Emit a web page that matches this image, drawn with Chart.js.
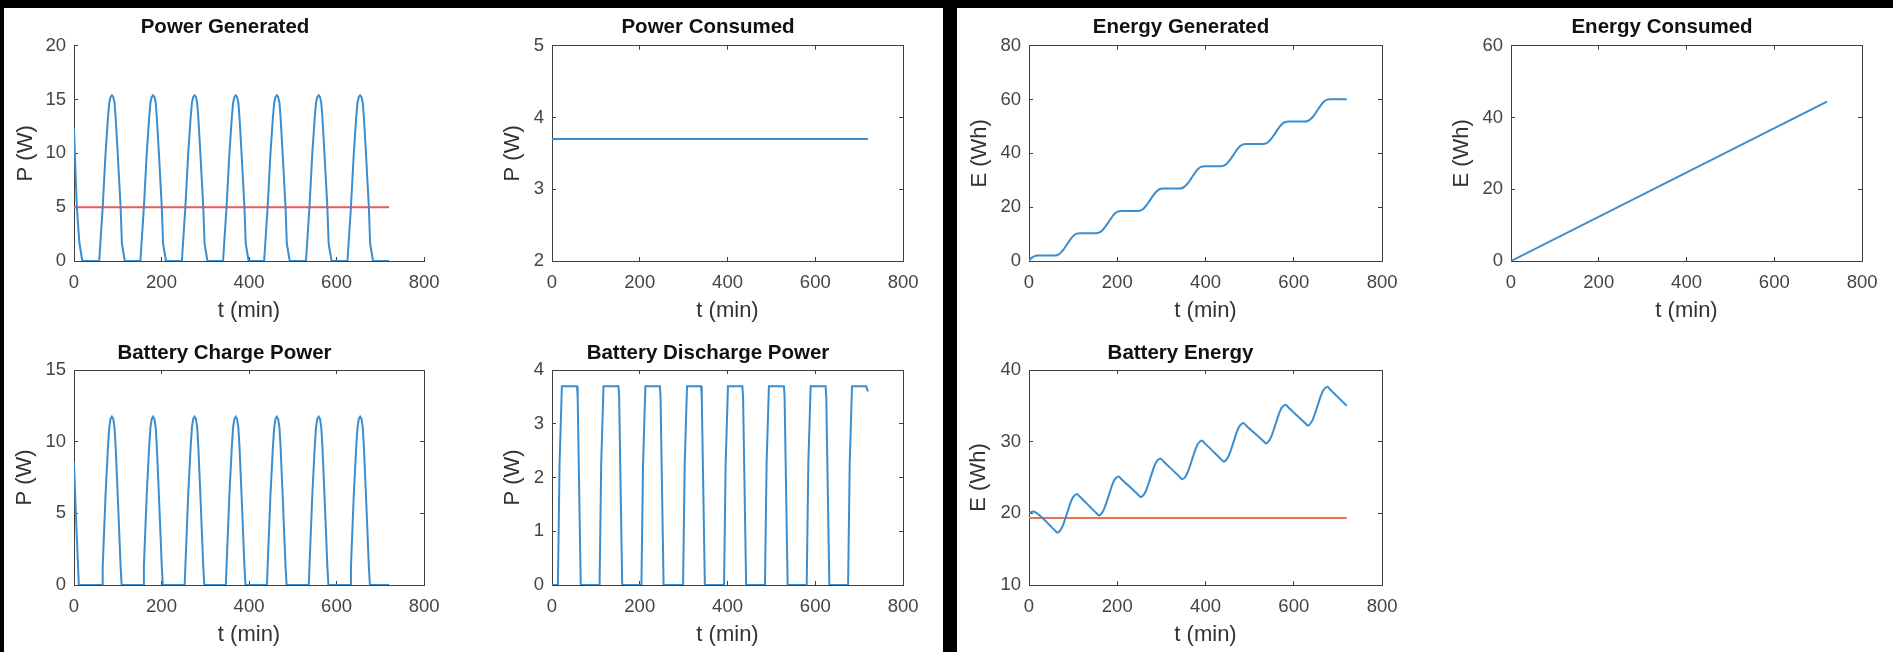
<!DOCTYPE html>
<html>
<head>
<meta charset="utf-8">
<script src="https://cdn.jsdelivr.net/npm/chart.js@4.4.1/dist/chart.umd.min.js"></script>
<style>
  html, body { margin: 0; padding: 0; background: #000; width: 1893px; height: 652px; overflow: hidden; position: relative; }
  .panel { position: absolute; background: #fff; top: 8px; height: 644px; }
  canvas { position: absolute; }
</style>
</head>
<body>
<div class="panel" style="left:4px;width:939px"></div>
<div class="panel" style="left:957px;width:936px"></div>

<canvas id="pGen" width="441" height="320" style="left:13px;top:8px"></canvas>
<canvas id="pUse" width="433" height="320" style="left:500px;top:8px"></canvas>
<canvas id="pChg" width="442" height="326" style="left:12px;top:326px"></canvas>
<canvas id="pDis" width="433" height="326" style="left:500px;top:326px"></canvas>
<canvas id="eGen" width="445" height="320" style="left:967px;top:8px"></canvas>
<canvas id="eUse" width="443" height="320" style="left:1449px;top:8px"></canvas>
<canvas id="eBat" width="446" height="326" style="left:966px;top:326px"></canvas>

<script>
// x axis ticks (min) shared by every panel
const tTicks = [0, 200, 400, 600, 800];

// Power generated (W)
const genT = [0, 3, 6.5, 12.5, 19,
  57.6, 65.6, 72.1, 77.6, 80.6, 83.6, 86.6, 89.6, 92.6, 95.1, 99.9, 106.5, 109.5, 116.1,
  151.7, 159.7, 166.2, 171.7, 174.7, 177.7, 180.7, 183.7, 186.7, 189.2, 194, 200.6, 203.6, 210.2,
  246.5, 254.5, 261, 266.5, 269.5, 272.5, 275.5, 278.5, 281.5, 284, 288.8, 295.4, 298.4, 305,
  340.6, 348.6, 355.1, 360.6, 363.6, 366.6, 369.6, 372.6, 375.6, 378.1, 382.9, 389.5, 392.5, 399.1,
  434.5, 442.5, 449, 454.5, 457.5, 460.5, 463.5, 466.5, 469.5, 472, 476.8, 483.4, 486.4, 493,
  530.1, 538.1, 544.6, 550.1, 553.1, 556.1, 559.1, 562.1, 565.1, 567.6, 572.4, 579, 582, 588.6,
  624.9, 632.9, 639.4, 644.9, 647.9, 650.9, 653.9, 656.9, 659.9, 662.4, 667.2, 673.8, 676.8, 683.4,
  720];
const genP = [12.3, 8.8, 5, 1.6, 0,
  0, 5, 10, 13.3, 14.7, 15.25, 15.4, 15.25, 14.7, 13.4, 10, 5, 1.6, 0,
  0, 5, 10, 13.3, 14.7, 15.25, 15.4, 15.25, 14.7, 13.4, 10, 5, 1.6, 0,
  0, 5, 10, 13.3, 14.7, 15.25, 15.4, 15.25, 14.7, 13.4, 10, 5, 1.6, 0,
  0, 5, 10, 13.3, 14.7, 15.25, 15.4, 15.25, 14.7, 13.4, 10, 5, 1.6, 0,
  0, 5, 10, 13.3, 14.7, 15.25, 15.4, 15.25, 14.7, 13.4, 10, 5, 1.6, 0,
  0, 5, 10, 13.3, 14.7, 15.25, 15.4, 15.25, 14.7, 13.4, 10, 5, 1.6, 0,
  0, 5, 10, 13.3, 14.7, 15.25, 15.4, 15.25, 14.7, 13.4, 10, 5, 1.6, 0,
  0];
const limitT = [0, 720];
const limitP = [5, 5];

// Power consumed (W)
const useT = [0, 720];
const useP = [3.7, 3.7];

// Battery charge power (W)
const chgT = [0, 4, 11,
  64.1, 65.6, 72.1, 77.6, 80.6, 83.6, 86.6, 89.6, 92.6, 95.1, 99.9, 106.5, 108.9,
  158.2, 159.7, 166.2, 171.7, 174.7, 177.7, 180.7, 183.7, 186.7, 189.2, 194, 200.6, 203,
  253, 254.5, 261, 266.5, 269.5, 272.5, 275.5, 278.5, 281.5, 284, 288.8, 295.4, 297.8,
  347.1, 348.6, 355.1, 360.6, 363.6, 366.6, 369.6, 372.6, 375.6, 378.1, 382.9, 389.5, 391.9,
  441, 442.5, 449, 454.5, 457.5, 460.5, 463.5, 466.5, 469.5, 472, 476.8, 483.4, 485.8,
  536.6, 538.1, 544.6, 550.1, 553.1, 556.1, 559.1, 562.1, 565.1, 567.6, 572.4, 579, 581.4,
  631.4, 632.9, 639.4, 644.9, 647.9, 650.9, 653.9, 656.9, 659.9, 662.4, 667.2, 673.8, 676.2,
  720];
const chgP = [8.6, 5.2, 0,
  0, 1.3, 6.3, 9.6, 11.0, 11.6, 11.75, 11.6, 11.0, 9.7, 6.3, 1.3, 0,
  0, 1.3, 6.3, 9.6, 11.0, 11.6, 11.75, 11.6, 11.0, 9.7, 6.3, 1.3, 0,
  0, 1.3, 6.3, 9.6, 11.0, 11.6, 11.75, 11.6, 11.0, 9.7, 6.3, 1.3, 0,
  0, 1.3, 6.3, 9.6, 11.0, 11.6, 11.75, 11.6, 11.0, 9.7, 6.3, 1.3, 0,
  0, 1.3, 6.3, 9.6, 11.0, 11.6, 11.75, 11.6, 11.0, 9.7, 6.3, 1.3, 0,
  0, 1.3, 6.3, 9.6, 11.0, 11.6, 11.75, 11.6, 11.0, 9.7, 6.3, 1.3, 0,
  0, 1.3, 6.3, 9.6, 11.0, 11.6, 11.75, 11.6, 11.0, 9.7, 6.3, 1.3, 0,
  0];

// Battery discharge power (W)
const disT = [0, 13.5, 17.2, 22.5, 57, 58.5, 65.5,
  108.4, 112.1, 117.4, 151.5, 153, 160,
  203.8, 207.5, 212.8, 245.8, 247.3, 254.3,
  298.7, 302.4, 307.7, 339.8, 341.3, 348.3,
  392, 395.7, 401, 433.9, 435.4, 442.4,
  485.3, 489, 494.3, 528.5, 530, 537,
  580.4, 584.1, 589.4, 623.5, 625, 632,
  674.7, 678.4, 683.7, 716, 720];
const disP = [0, 0, 2.25, 3.7, 3.7, 3.5, 0,
  0, 2.25, 3.7, 3.7, 3.5, 0,
  0, 2.25, 3.7, 3.7, 3.5, 0,
  0, 2.25, 3.7, 3.7, 3.5, 0,
  0, 2.25, 3.7, 3.7, 3.5, 0,
  0, 2.25, 3.7, 3.7, 3.5, 0,
  0, 2.25, 3.7, 3.7, 3.5, 0,
  0, 2.25, 3.7, 3.7, 3.6];

// Energy generated (Wh)
const eGenT = [0, 3, 6.5, 12.5, 19,
  57.6, 65.6, 72.1, 77.6, 82.6, 86.6, 90.6, 95.1, 99.9, 106.5, 116.1,
  151.7, 159.7, 166.2, 171.7, 176.7, 180.7, 184.7, 189.2, 194, 200.6, 210.2,
  246.5, 254.5, 261, 266.5, 271.5, 275.5, 279.5, 284, 288.8, 295.4, 305,
  340.6, 348.6, 355.1, 360.6, 365.6, 369.6, 373.6, 378.1, 382.9, 389.5, 399.1,
  434.5, 442.5, 449, 454.5, 459.5, 463.5, 467.5, 472, 476.8, 483.4, 493,
  530.1, 538.1, 544.6, 550.1, 555.1, 559.1, 563.1, 567.6, 572.4, 579, 588.6,
  624.9, 632.9, 639.4, 644.9, 649.9, 653.9, 657.9, 662.4, 667.2, 673.8, 683.4,
  720];
const eGenE = [0, 0.7, 1.25, 1.8, 2.0,
  2.0, 2.32, 3.12, 4.16, 5.31, 6.3, 7.3, 8.33, 9.25, 10.05, 10.3,
  10.3, 10.62, 11.42, 12.46, 13.61, 14.6, 15.6, 16.63, 17.55, 18.35, 18.6,
  18.6, 18.92, 19.72, 20.76, 21.91, 22.9, 23.9, 24.93, 25.85, 26.65, 26.9,
  26.9, 27.22, 28.02, 29.06, 30.21, 31.2, 32.2, 33.23, 34.15, 34.95, 35.2,
  35.2, 35.52, 36.32, 37.36, 38.51, 39.5, 40.5, 41.53, 42.45, 43.25, 43.5,
  43.5, 43.82, 44.62, 45.66, 46.81, 47.8, 48.8, 49.83, 50.75, 51.55, 51.8,
  51.8, 52.12, 52.92, 53.96, 55.11, 56.1, 57.1, 58.13, 59.05, 59.85, 60.1,
  60.1];

// Energy consumed (Wh)
const eUseT = [0, 720];
const eUseE = [0, 44.4];

// Battery energy (Wh)
const batT = [0, 4, 9, 13, 60,
  64.1, 72.1, 77.6, 82.6, 86.6, 90.6, 95.1, 99.9, 108.9, 115, 154,
  158.2, 166.2, 171.7, 176.7, 180.7, 184.7, 189.2, 194, 203, 209, 249,
  253, 261, 266.5, 271.5, 275.5, 279.5, 284, 288.8, 297.8, 303.8, 343,
  347.1, 355.1, 360.6, 365.6, 369.6, 373.6, 378.1, 382.9, 391.9, 397.9, 437,
  441, 449, 454.5, 459.5, 463.5, 467.5, 472, 476.8, 485.8, 491.8, 532.6,
  536.6, 544.6, 550.1, 555.1, 559.1, 563.1, 567.6, 572.4, 581.4, 587.4, 627.4,
  631.4, 639.4, 644.9, 649.9, 653.9, 657.9, 662.4, 667.2, 676.2, 682.2,
  720];
const batE = [19.95, 20.15, 20.25, 20.2, 17.54,
  17.3, 17.73, 18.44, 19.31, 20.08, 20.84, 21.63, 22.26, 22.7, 22.34, 19.94,
  19.7, 20.13, 20.86, 21.73, 22.5, 23.28, 24.07, 24.7, 25.15, 24.8, 22.49,
  22.25, 22.68, 23.39, 24.26, 25.03, 25.79, 26.58, 27.21, 27.65, 27.3, 24.99,
  24.75, 25.18, 25.89, 26.76, 27.53, 28.29, 29.08, 29.71, 30.15, 29.8, 27.44,
  27.2, 27.63, 28.34, 29.21, 29.98, 30.74, 31.53, 32.16, 32.6, 32.25, 29.99,
  29.75, 30.18, 30.89, 31.76, 32.53, 33.29, 34.08, 34.71, 35.15, 34.8, 32.49,
  32.25, 32.68, 33.39, 34.26, 35.03, 35.79, 36.58, 37.21, 37.65, 37.28,
  35.0];
const batMinT = [0, 720];
const batMinE = [19.35, 19.35];

const FONT = "'Liberation Sans', Arial, Helvetica, sans-serif";
const AXIS = '#3f3f3f';
const BLUE = '#3a8ed0';
const RED = '#ee5a52';
const ORANGE = '#e2784a';

function xy(ts, vs) {
  return ts.map((t, i) => ({ x: t, y: vs[i] }));
}

function line(ts, vs, color, smooth) {
  return {
    data: xy(ts, vs),
    borderColor: color,
    borderWidth: 2,
    pointRadius: 0,
    fill: false,
    tension: 0,
    cubicInterpolationMode: smooth ? 'monotone' : 'default'
  };
}

function makeChart(id, spec) {
  const tickFont = { family: FONT, size: 18.5 };
  const labelFont = { family: FONT, size: 22 };
  const topRow = spec.row === 0;

  const scales = {
    x: {
      type: 'linear', position: 'bottom', min: 0, max: 800,
      afterBuildTicks: s => { s.ticks = tTicks.map(v => ({ value: v })); },
      afterFit: s => { s.height = 62.9; },
      ticks: { padding: 14.5, color: '#444', font: tickFont, maxRotation: 0, autoSkip: false },
      grid: { drawOnChartArea: false, tickLength: -4, color: AXIS },
      border: { color: AXIS, width: 1 },
      title: { display: true, text: 't (min)', color: '#333', font: labelFont, padding: 0 }
    },
    y: {
      type: 'linear', position: 'left', min: spec.yMin, max: spec.yMax,
      afterFit: s => { s.width = spec.yWidth; },
      ticks: { stepSize: spec.yStep, padding: 12, color: '#444', font: tickFont },
      grid: { drawOnChartArea: false, tickLength: -4, color: AXIS },
      border: { color: AXIS, width: 1 },
      title: { display: true, text: spec.yLabel, color: '#333', font: labelFont, padding: 0 }
    }
  };

  // box on: mirrored axes on top and right with inward ticks only
  if (spec.box) {
    scales.xTop = {
      type: 'linear', position: 'top', min: 0, max: 800,
      afterBuildTicks: s => { s.ticks = tTicks.map(v => ({ value: v })); },
      afterFit: s => { s.height = 0; },
      ticks: { display: false },
      grid: { drawOnChartArea: false, tickLength: -4, color: AXIS },
      border: { color: AXIS, width: 1 }
    };
    scales.yRight = {
      type: 'linear', position: 'right', min: spec.yMin, max: spec.yMax,
      afterFit: s => { s.width = 0; },
      ticks: { display: false, stepSize: spec.yStep },
      grid: { drawOnChartArea: false, tickLength: -4, color: AXIS },
      border: { color: AXIS, width: 1 }
    };
  }

  new Chart(document.getElementById(id), {
    type: 'line',
    data: { datasets: spec.datasets },
    options: {
      responsive: false,
      animation: false,
      devicePixelRatio: 1,
      layout: { padding: { left: 0, right: 17, top: 0, bottom: 4.1 } },
      plugins: {
        legend: { display: false },
        tooltip: { enabled: false },
        title: {
          display: true,
          text: spec.title,
          color: '#111',
          font: { family: FONT, size: 20.5, weight: 'bold' },
          padding: topRow ? { top: 7.5, bottom: 5.6 } : { top: 14.7, bottom: 4.7 }
        }
      },
      scales: scales
    }
  });
}

makeChart('pGen', {
  row: 0, title: 'Power Generated', yLabel: 'P (W)', yMin: 0, yMax: 20, yStep: 5, yWidth: 61, box: false,
  datasets: [line(genT, genP, BLUE, false), line(limitT, limitP, RED, false)]
});
makeChart('pUse', {
  row: 0, title: 'Power Consumed', yLabel: 'P (W)', yMin: 2, yMax: 5, yStep: 1, yWidth: 52, box: true,
  datasets: [line(useT, useP, BLUE, false)]
});
makeChart('pChg', {
  row: 1, title: 'Battery Charge Power', yLabel: 'P (W)', yMin: 0, yMax: 15, yStep: 5, yWidth: 62, box: true,
  datasets: [line(chgT, chgP, BLUE, false)]
});
makeChart('pDis', {
  row: 1, title: 'Battery Discharge Power', yLabel: 'P (W)', yMin: 0, yMax: 4, yStep: 1, yWidth: 52, box: true,
  datasets: [line(disT, disP, BLUE, false)]
});
makeChart('eGen', {
  row: 0, title: 'Energy Generated', yLabel: 'E (Wh)', yMin: 0, yMax: 80, yStep: 20, yWidth: 62, box: true,
  datasets: [line(eGenT, eGenE, BLUE, true)]
});
makeChart('eUse', {
  row: 0, title: 'Energy Consumed', yLabel: 'E (Wh)', yMin: 0, yMax: 60, yStep: 20, yWidth: 62, box: true,
  datasets: [line(eUseT, eUseE, BLUE, false)]
});
makeChart('eBat', {
  row: 1, title: 'Battery Energy', yLabel: 'E (Wh)', yMin: 10, yMax: 40, yStep: 10, yWidth: 63, box: true,
  datasets: [line(batT, batE, BLUE, true), line(batMinT, batMinE, ORANGE, false)]
});
</script>
</body>
</html>
